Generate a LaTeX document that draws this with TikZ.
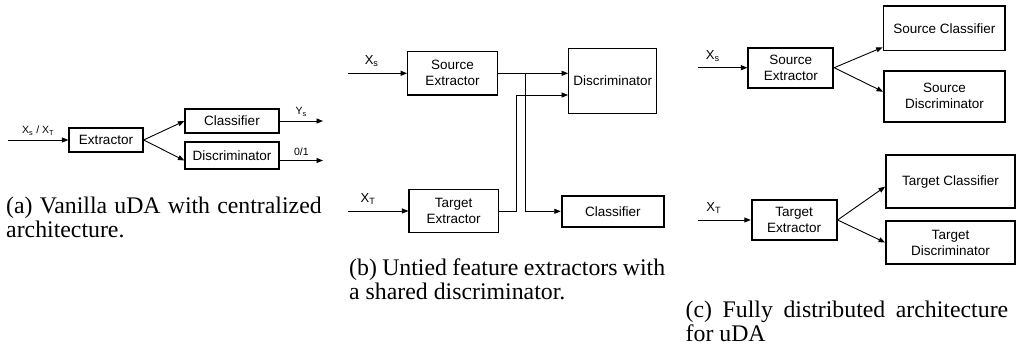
\documentclass[tikz,border=0pt]{standalone}
\usepackage{fontspec}
\setmainfont{Liberation Serif}
\setsansfont{Liberation Sans}
\usetikzlibrary{arrows.meta,positioning,calc}

\begin{document}
\begin{tikzpicture}[
      x=1pt, y=-1pt,
      box/.style={draw, line width=1.2pt, align=center, inner sep=0pt,
                  font=\sffamily\fontsize{13.5}{16}\selectfont},
      heavy/.style={box, line width=1.8pt},
      arr/.style={-{Triangle[length=6.5pt,width=5pt]}, line width=0.9pt},
      lbl/.style={font=\sffamily\fontsize{13}{15}\selectfont, inner sep=0pt},
      tiny/.style={font=\sffamily\fontsize{10.5}{12}\selectfont, inner sep=0pt},
      capt/.style={font=\fontsize{23.8}{24.2}\selectfont, align=justify,
                   inner sep=0pt, anchor=north west}
    ]
    \useasboundingbox (0,0) rectangle (1018,346);

    % (a)
    \node[box, minimum width=74pt, minimum height=24pt] (ext) at (106,140) {Extractor};
    \node[box, minimum width=94pt, minimum height=24pt] (cls) at (232,121) {Classifier};
    \node[box, minimum width=94pt, minimum height=27pt] (dis) at (232,155.5) {Discriminator};
    \coordinate (ina) at (8,140);
    \coordinate (outy) at (323,121);
    \coordinate (outd) at (323,160.5);

    \draw[arr] (ina) -- node[tiny, above=4pt] {X\textsubscript{s} / X\textsubscript{T}} (ext);
    \draw[arr] (ext.east) -- (cls.west);
    \draw[arr] (ext.east) -- ($(dis.west)+(0,5)$);
    \draw[arr] (cls.east) -- node[tiny, above=4pt] {Y\textsubscript{s}} (outy);
    \draw[arr] ($(dis.east)+(0,5)$) -- node[tiny, above=4pt] {0/1} (outd);

    \node[capt, text width=315.5pt] (capa) at (6,197)
      {(a) Vanilla uDA with centralized\linebreak architecture.};

    % (b)
    \node[box, minimum width=89.6pt, minimum height=43.3pt] (srcext) at (452.5,73.3)
      {Source\\Extractor};
    \node[box, minimum width=88pt, minimum height=65pt] (shdisc) at (612.7,80.8)
      {Discriminator};
    \node[box, minimum width=89.3pt, minimum height=43.4pt] (tgtext) at (453.7,211)
      {Target\\Extractor};
    \node[heavy, minimum width=102.3pt, minimum height=30.7pt] (shcls) at (612.8,211.3)
      {Classifier};
    \coordinate (inbs) at (348,73.3);
    \coordinate (inbt) at (348,211);
    \coordinate (splitb) at (525,73.3);
    \coordinate (mergeb) at (516,95);

    \draw[arr] (inbs) -- node[lbl, pos=0.4, above=6pt] {X\textsubscript{s}} (srcext);
    \draw[arr] (inbt) -- node[lbl, pos=0.33, above=6pt] {X\textsubscript{T}} (tgtext);
    \draw[arr] (srcext.east) -- (shdisc.west |- srcext.east);
    \draw[arr] (splitb) |- (shcls.west);
    \draw[arr] (tgtext.east) -| (mergeb) -- (shdisc.west |- mergeb);

    \node[capt, text width=316pt] (capb) at (349,258.7)
      {(b) Untied feature extractors with\linebreak a shared discriminator.};

    % (c)
    \node[heavy, minimum width=85pt, minimum height=40pt] (csrcext) at (790.8,67.7)
      {Source\\Extractor};
    \node[heavy, minimum width=121.5pt, minimum height=44.5pt] (srccls) at (944.3,28.3)
      {Source Classifier};
    \node[heavy, minimum width=121pt, minimum height=51pt] (srcdis) at (944.5,96.2)
      {Source\\Discriminator};
    \node[heavy, minimum width=85pt, minimum height=40pt] (ctgtext) at (794.2,220)
      {Target\\Extractor};
    \node[heavy, minimum width=129pt, minimum height=53.3pt] (tgtcls) at (950.5,181.7)
      {Target Classifier};
    \node[heavy, minimum width=129pt, minimum height=43pt] (tgtdis) at (950.5,242.5)
      {Target\\Discriminator};
    \coordinate (incs) at (698,67.7);
    \coordinate (inct) at (698,220);

    \draw[arr] (incs) -- node[lbl, pos=0.3, above=6pt] {X\textsubscript{s}} (csrcext);
    \draw[arr] (inct) -- node[lbl, pos=0.3, above=6pt] {X\textsubscript{T}} (ctgtext);
    \draw[arr] (csrcext.east) -- ($(srccls.west)+(0,19)$);
    \draw[arr] (csrcext.east) -- ($(srcdis.west)+(0,-4.5)$);
    \draw[arr] (ctgtext.east) -- ($(tgtcls.west)+(0,5)$);
    \draw[arr] (ctgtext.east) -- (tgtdis.west);

    \node[capt, text width=322.5pt, font=\fontsize{23.8}{23.4}\selectfont] (capc)
      at (685.5,301) {(c) Fully distributed architecture\linebreak for uDA};
  \end{tikzpicture}
\end{document}
